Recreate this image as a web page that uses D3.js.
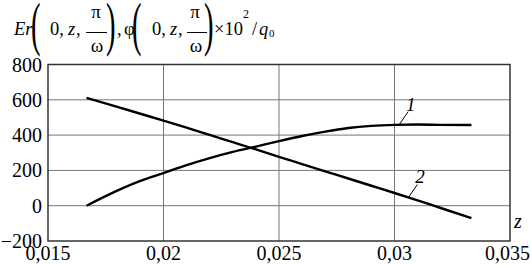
<!DOCTYPE html>
<html>
<head>
<meta charset="utf-8">
<script src="https://cdn.jsdelivr.net/npm/d3@7"></script>
</head>
<body style="margin:0">
<svg id="chart" width="531" height="267"></svg>
<script>
// data
var zValues  = [0.01667, 0.018, 0.019, 0.020, 0.021, 0.022, 0.023, 0.024, 0.025, 0.026, 0.027, 0.028, 0.029, 0.030, 0.031, 0.032, 0.03333]
var erValues = [0, 85, 140, 185, 230, 270, 305, 335, 366, 395, 420, 440, 452, 458, 460, 458, 457]
var phiValues = [611, 560, 521, 482, 442, 401, 360, 319, 277, 236, 195, 154, 113, 72, 30, -13, -70]

var xTicks = [0.015, 0.02, 0.025, 0.03, 0.035]
var xTickLabels = ["0,015", "0,02", "0,025", "0,03", "0,035"]
var yTicks = [-200, 0, 200, 400, 600, 800]
var yTickLabels = ["\u2212200", "0", "200", "400", "600", "800"]

var curveLabels = ["1", "2"]
var labelAt = [0.0302, 0.0306]   // z where leader line touches the curve

var series = [erValues, phiValues]

const FONT = '"Liberation Serif"'
const W = 531, H = 267
const margin = {top: 64.5, right: 21, bottom: 26, left: 48}

const svg = d3.select("#chart")

const xScale = d3.scaleLinear()
    .domain([0.015, 0.035])
    .range([margin.left, W - margin.right])

const yScale = d3.scaleLinear()
    .domain([-200, 800])
    .range([H - margin.bottom, margin.top])

// grid
svg.append("g")
    .selectAll("line")
    .data(xTicks.slice(1, -1))
    .enter().append("line")
    .attr("x1", d => xScale(d)).attr("x2", d => xScale(d))
    .attr("y1", yScale(-200)).attr("y2", yScale(800))
    .attr("stroke", "#777").attr("stroke-width", 1)

svg.append("g")
    .selectAll("line")
    .data(yTicks.slice(1, -1))
    .enter().append("line")
    .attr("x1", xScale(0.015)).attr("x2", xScale(0.035))
    .attr("y1", d => yScale(d)).attr("y2", d => yScale(d))
    .attr("stroke", "#777").attr("stroke-width", 1)

// frame
svg.append("rect")
    .attr("x", xScale(0.015))
    .attr("y", yScale(800))
    .attr("width", xScale(0.035) - xScale(0.015))
    .attr("height", yScale(-200) - yScale(800))
    .attr("fill", "none")
    .attr("stroke", "#333")
    .attr("stroke-width", 1.5)

// tick labels
svg.append("g")
    .selectAll("text")
    .data(xTicks)
    .enter().append("text")
    .attr("x", (d, i) => i == xTicks.length - 1 ? W - 1 : xScale(d))
    .attr("y", yScale(-200) + 19)
    .attr("text-anchor", (d, i) => i == xTicks.length - 1 ? "end" : "middle")
    .attr("font-size", 20)
    .style("font-family", FONT)
    .text((d, i) => xTickLabels[i])

svg.append("g")
    .selectAll("text")
    .data(yTicks)
    .enter().append("text")
    .attr("x", xScale(0.015) - 6)
    .attr("y", d => yScale(d) + 7)
    .attr("text-anchor", "end")
    .attr("font-size", 20)
    .style("font-family", FONT)
    .text((d, i) => yTickLabels[i])

// curves
const line = d3.line()
    .x((d, i) => xScale(zValues[i]))
    .y(d => yScale(d))
    .curve(d3.curveMonotoneX)

svg.append("g")
    .selectAll("path")
    .data(series)
    .enter().append("path")
    .attr("fill", "none")
    .attr("stroke", "#000")
    .attr("stroke-width", 2.4)
    .attr("d", d => line(d))

// curve labels with leader lines
const interp = (arr, z) => {
    let i = d3.bisectLeft(zValues, z)
    let t = (z - zValues[i - 1]) / (zValues[i] - zValues[i - 1])
    return arr[i - 1] + t * (arr[i] - arr[i - 1])
}
curveLabels.forEach((lab, k) => {
    let px = xScale(labelAt[k]), py = yScale(interp(series[k], labelAt[k]))
    svg.append("line")
        .attr("x1", px).attr("y1", py)
        .attr("x2", px + 9).attr("y2", py - 13)
        .attr("stroke", "#000").attr("stroke-width", 1)
    svg.append("text")
        .attr("x", px + 7).attr("y", py - 14)
        .attr("font-size", 19)
        .style("font-family", FONT)
        .style("font-style", "italic")
        .text(lab)
})

// axis name
svg.append("text")
    .attr("x", 514).attr("y", 228)
    .attr("font-size", 20)
    .style("font-family", FONT)
    .style("font-style", "italic")
    .text("z")

// title: Er(0, z, π/ω), φ(0, z, π/ω)×10²/q₀
const title = svg.append("g")
const base = 35
function t(x, y, s, size, italic, anchor) {
    return title.append("text")
        .attr("x", x).attr("y", y)
        .attr("text-anchor", anchor || "start")
        .attr("font-size", size)
        .style("font-family", FONT)
        .style("font-style", italic ? "italic" : "normal")
        .text(s)
}
function paren(x, s) {
    title.append("text")
        .attr("transform", `translate(${x},43.5) scale(1.1,2.3)`)
        .attr("font-size", 26)
        .style("font-family", FONT)
        .text(s)
}
function frac(cx, x1, x2) {
    t(cx, 18, "\u03c0", 19, false, "middle")
    title.append("line")
        .attr("x1", x1).attr("x2", x2)
        .attr("y1", 32.5).attr("y2", 32.5)
        .attr("stroke", "#000").attr("stroke-width", 1)
    t(cx + 1, 52, "\u03c9", 19, false, "middle")
}
t(14, base, "Er", 18.5, true)
paren(31, "(")
t(50, base, "0,", 18.5, false)
t(68, base, "z", 18.5, true)
t(76, base, ",", 18.5, false)
frac(96, 86, 107)
paren(106, ")")
t(117, base, ",", 18.5, false)
t(124, base, "\u03c6", 18.5, false)
paren(132, "(")
t(152, base, "0,", 18.5, false)
t(170, base, "z", 18.5, true)
t(178, base, ",", 18.5, false)
frac(195, 187, 207)
paren(204, ")")
t(214, base, "\u00d710", 18.5, false)
t(243, 18, "2", 12, false)
t(252, base, "/", 18.5, false)
t(259, base, "q", 18.5, true)
t(269, 37, "0", 11, false)
</script>
</body>
</html>
